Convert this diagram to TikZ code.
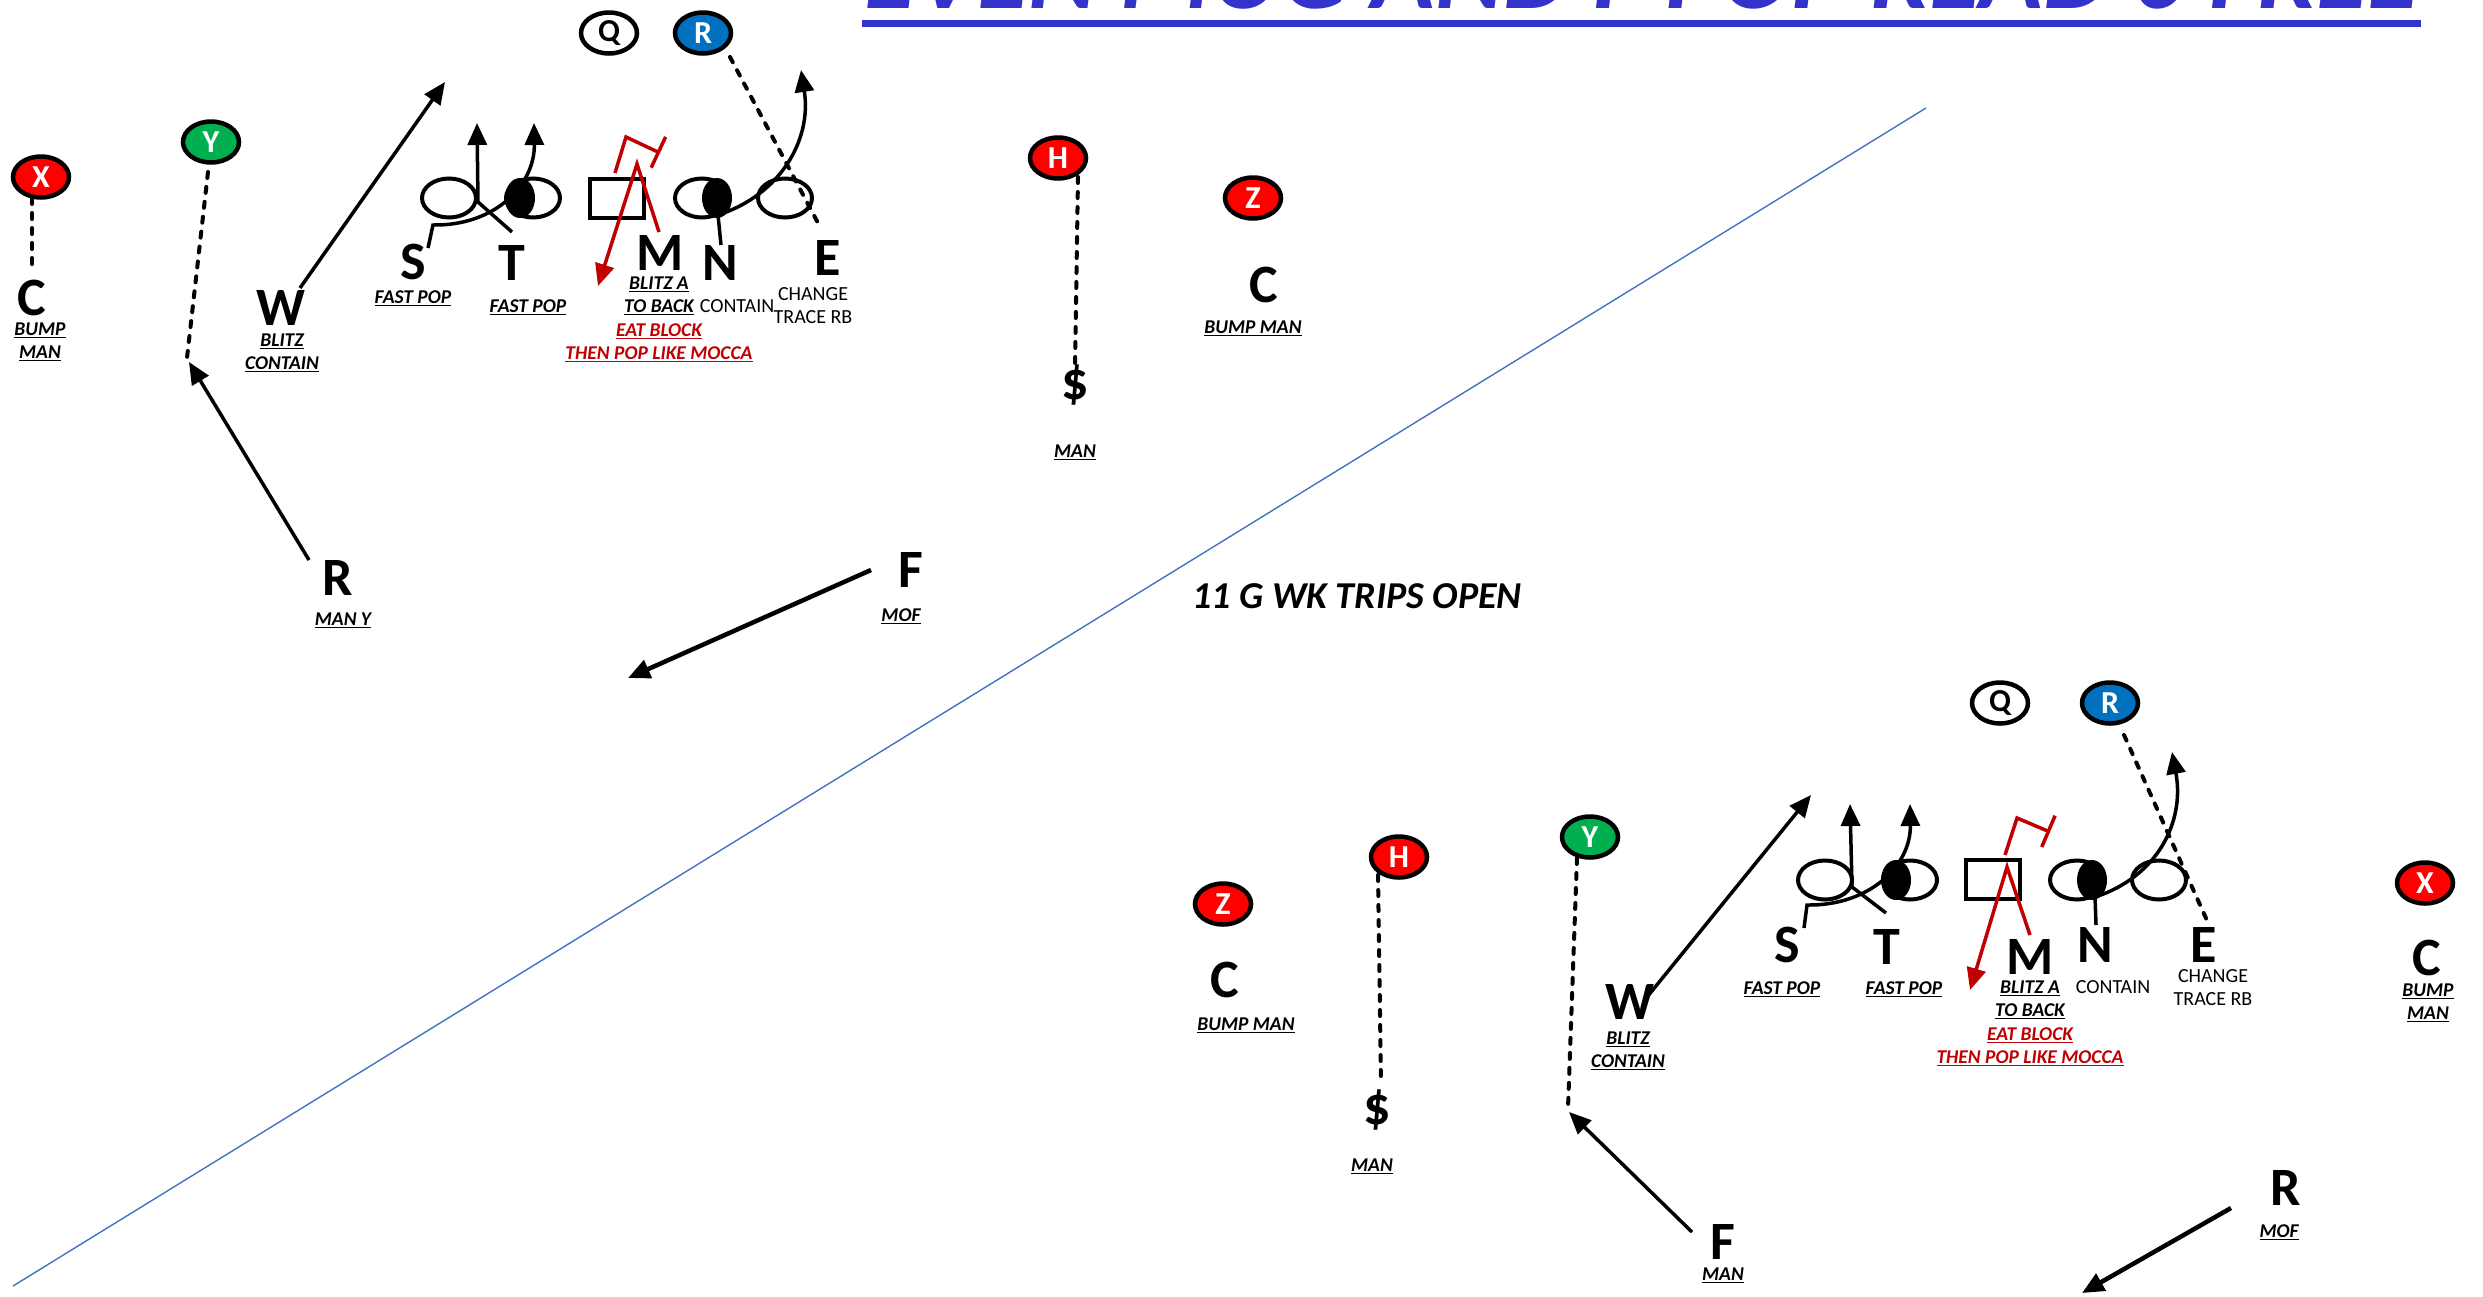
\documentclass[tikz,border=0pt]{standalone}
\usepackage{fontspec}
\usepackage{graphicx}
\setmainfont{Carlito}
\usetikzlibrary{arrows.meta,shapes.geometric}
\definecolor{titleblue}{HTML}{3333CC}
\definecolor{pblue}{HTML}{0070C0}
\definecolor{pgreen}{HTML}{00B050}
\definecolor{pred}{HTML}{FF0000}
\definecolor{dred}{HTML}{C00000}
\definecolor{lineblue}{HTML}{4472C4}
\tikzset{
  player/.style={ellipse, draw=black, line width=4.5pt, minimum width=56pt, minimum height=41pt, inner sep=0pt, font=\fontsize{32}{32}\selectfont\bfseries, text=white},
  oval/.style={ellipse, draw=black, line width=4pt, minimum width=54pt, minimum height=39pt, inner sep=0pt},
  half/.style={ellipse, fill=black, minimum width=30pt, minimum height=40pt, inner sep=0pt},
  boxpos/.style={rectangle, draw=black, line width=4pt, minimum width=54pt, minimum height=39pt, inner sep=0pt},
  big/.style={font=\fontsize{54}{54}\selectfont\bfseries, inner sep=0pt},
  lab/.style={font=\fontsize{19.5}{23}\selectfont\bfseries\itshape, inner sep=0pt, align=center},
  plainlab/.style={font=\fontsize{20}{23}\selectfont, inner sep=0pt, align=center},
  route/.style={line width=3.5pt, -{Triangle[length=22pt,width=19pt]}},
  redroute/.style={draw=dred, line width=3.5pt, -{Triangle[length=22pt,width=19pt]}},
  blockroute/.style={draw=dred, line width=3.5pt, -{Bar[width=34pt]}},
  plainline/.style={line width=3.5pt},
  dashline/.style={line width=4pt, dash pattern=on 6pt off 9pt, line cap=round},
}
\begin{document}
\begin{tikzpicture}[x=1pt,y=-1pt]
\useasboundingbox (0,0) rectangle (2483,1296);
\clip (0,0) rectangle (2483,1296);
\fill[white] (0,0) rectangle (2483,1296);

% title
\node[anchor=base west, inner sep=0pt, text=titleblue] (title) at (864,8)
  {\resizebox{1555pt}{!}{\fontsize{90}{90}\selectfont\bfseries\itshape EVEN MUG AND F POP READ 0 FREE}};
\fill[titleblue] (862,20) rectangle (2421,27);

% diagonal divider
\coordinate (dA) at (13,1286);
\coordinate (dB) at (1926,108);
\draw[lineblue, line width=1.4pt] (dA) -- (dB);

\node[font=\fontsize{38}{38}\selectfont\bfseries\itshape, inner sep=0pt] (formation) at (1357,596) {11 G WK TRIPS OPEN};

% ================= TOP DIAGRAM =================
\node[player, fill=white, text=black] (q1) at (609,33) {Q};
\node[player, fill=pblue] (r1) at (703,33) {R};
\node[player, fill=pred] (x1) at (41,177) {X};
\node[player, fill=pgreen] (y1) at (211,142) {Y};
\node[player, fill=pred] (h1) at (1058,158) {H};
\node[player, fill=pred] (z1) at (1253,198) {Z};

\node[half] (ft1) at (520,198) {};
\node[half] (fn1) at (717,198) {};
\node[oval] (os1) at (449,198) {};
\node[oval] (ot1) at (533,198) {};
\node[boxpos] (bx1) at (617,198) {};
\node[oval] (on1) at (702,198) {};
\node[oval] (oe1) at (785,198) {};

\node[big] (S1) at (413,262) {S};
\node[big] (T1) at (512,263) {T};
\node[big] (M1) at (660,253) {M};
\node[big] (N1) at (720,263) {N};
\node[big] (E1) at (828,258) {E};
\node[big] (CL1) at (32,298) {C};
\node[big] (W1) at (281,308) {W};
\node[big] (RL1) at (338,578) {R};
\node[big] (F1) at (911,570) {F};
\node[big] (CR1) at (1264,285) {C};
\node[big] (D1) at (1075,385) {\$};

\node[lab] (fp1) at (413,298) {\underline{FAST POP}};
\node[lab] (fp2) at (528,307) {\underline{FAST POP}};
\node[lab] (bl1) at (659,296) {\underline{BLITZ A}\\\underline{TO BACK}};
\node[lab, text=dred] (eb1) at (659,343) {\underline{EAT BLOCK}\\\underline{THEN POP LIKE MOCCA}};
\node[plainlab] (ct1) at (737,306) {CONTAIN};
\node[plainlab] (ch1) at (813,306) {CHANGE\\TRACE RB};
\node[lab] (bm1) at (40,342) {\underline{BUMP}\\\underline{MAN}};
\node[lab] (bc1) at (282,353) {\underline{BLITZ}\\\underline{CONTAIN}};
\node[lab] (my1) at (343,620) {\underline{MAN Y}};
\node[lab] (mo1) at (901,616) {\underline{MOF}};
\node[lab] (mn1) at (1075,452) {\underline{MAN}};
\node[lab] (bm2) at (1253,328) {\underline{BUMP MAN}};

% top routes
\coordinate (xa) at (32,198);   \coordinate (xb) at (32,267);
\draw[dashline] (xa) -- (xb);
\coordinate (ya) at (208,172);  \coordinate (yb) at (187,358);
\draw[dashline] (ya) -- (yb);
\coordinate (ra) at (309,560);  \coordinate (rb) at (189,362);
\draw[route] (ra) -- (rb);
\coordinate (wa) at (300,288);  \coordinate (wb) at (445,82);
\draw[route] (wa) -- (wb);
\coordinate (fa) at (871,570);  \coordinate (fb) at (628,678);
\draw[route, line width=4.5pt] (fa) -- (fb);
\coordinate (ha) at (1078,177); \coordinate (hb) at (1075,366);
\draw[dashline] (ha) -- (hb);
\coordinate (rda) at (730,57);  \coordinate (rdb) at (818,223);
\draw[dashline] (rda) -- (rdb);

\coordinate (sa) at (428,248);  \coordinate (sb) at (433,225); \coordinate (sc) at (534,123);
\draw[route] (sa) -- (sb) .. controls (495,226) and (535,185) .. (sc);
\coordinate (ta) at (512,232);  \coordinate (tb) at (478,202); \coordinate (tc) at (477,123);
\draw[route] (ta) -- (tb) -- (tc);
\coordinate (na) at (721,245);  \coordinate (nb) at (718,215); \coordinate (nc) at (801,70);
\draw[route] (na) -- (nb) .. controls (780,195) and (812,140) .. (nc);
\coordinate (ma) at (659,232);  \coordinate (mb) at (637,164); \coordinate (mc) at (598,286);
\draw[redroute] (ma) -- (mb) -- (mc);
\coordinate (ka) at (615,173);  \coordinate (kb) at (626,137); \coordinate (kc) at (660,153);
\draw[blockroute] (ka) -- (kb) -- (kc);

% ================= BOTTOM DIAGRAM =================
\node[player, fill=white, text=black] (q2) at (2000,703) {Q};
\node[player, fill=pblue] (r2) at (2110,703) {R};
\node[player, fill=pred] (x2) at (2425,883) {X};
\node[player, fill=pred] (z2) at (1223,904) {Z};
\node[player, fill=pred] (h2) at (1399,857) {H};
\node[player, fill=pgreen] (y2) at (1590,837) {Y};

\node[half] (ft2) at (1896,880) {};
\node[half] (fn2) at (2092,880) {};
\node[oval] (os2) at (1825,880) {};
\node[oval] (ot2) at (1910,880) {};
\node[boxpos] (bx2) at (1993,879) {};
\node[oval] (on2) at (2077,880) {};
\node[oval] (oe2) at (2159,880) {};

\node[big] (S2) at (1787,945) {S};
\node[big] (T2) at (1887,947) {T};
\node[big] (M2) at (2030,957) {M};
\node[big] (N2) at (2095,945) {N};
\node[big] (E2) at (2204,945) {E};
\node[big] (CX2) at (2427,958) {C};
\node[big] (CZ2) at (1225,980) {C};
\node[big] (D2) at (1377,1110) {\$};
\node[big] (W2) at (1630,1002) {W};
\node[big] (F2) at (1723,1242) {F};
\node[big] (RL2) at (2286,1188) {R};

\node[lab] (fp3) at (1782,989) {\underline{FAST POP}};
\node[lab] (fp4) at (1904,989) {\underline{FAST POP}};
\node[lab] (bl2) at (2030,1000) {\underline{BLITZ A}\\\underline{TO BACK}};
\node[lab, text=dred] (eb2) at (2030,1047) {\underline{EAT BLOCK}\\\underline{THEN POP LIKE MOCCA}};
\node[plainlab] (ct2) at (2113,987) {CONTAIN};
\node[plainlab] (ch2) at (2213,988) {CHANGE\\TRACE RB};
\node[lab] (bm3) at (2428,1003) {\underline{BUMP}\\\underline{MAN}};
\node[lab] (bm4) at (1246,1025) {\underline{BUMP MAN}};
\node[lab] (mn2) at (1372,1166) {\underline{MAN}};
\node[lab] (bc2) at (1628,1051) {\underline{BLITZ}\\\underline{CONTAIN}};
\node[lab] (mn3) at (1723,1275) {\underline{MAN}};
\node[lab] (mo2) at (2279,1232) {\underline{MOF}};

% bottom routes
\coordinate (h2a) at (1378,875);  \coordinate (h2b) at (1381,1083);
\draw[dashline] (h2a) -- (h2b);
\coordinate (y2a) at (1577,858);  \coordinate (y2b) at (1568,1108);
\draw[dashline] (y2a) -- (y2b);
\coordinate (f2a) at (1692,1232); \coordinate (f2b) at (1569,1112);
\draw[route] (f2a) -- (f2b);
\coordinate (w2a) at (1647,997);  \coordinate (w2b) at (1811,795);
\draw[route] (w2a) -- (w2b);
\coordinate (r2a) at (2231,1208); \coordinate (r2b) at (2082,1293);
\draw[route, line width=4.5pt] (r2a) -- (r2b);
\coordinate (rd2a) at (2124,735); \coordinate (rd2b) at (2209,925);
\draw[dashline] (rd2a) -- (rd2b);

\coordinate (s2a) at (1804,928);  \coordinate (s2b) at (1807,905); \coordinate (s2c) at (1910,804);
\draw[route] (s2a) -- (s2b) .. controls (1869,906) and (1911,866) .. (s2c);
\coordinate (t2a) at (1886,913);  \coordinate (t2b) at (1852,887); \coordinate (t2c) at (1850,804);
\draw[route] (t2a) -- (t2b) -- (t2c);
\coordinate (n2a) at (2096,925);  \coordinate (n2b) at (2095,897); \coordinate (n2c) at (2172,752);
\draw[route] (n2a) -- (n2b) .. controls (2157,877) and (2185,822) .. (n2c);
\coordinate (m2a) at (2030,935);  \coordinate (m2b) at (2007,867); \coordinate (m2c) at (1970,990);
\draw[redroute] (m2a) -- (m2b) -- (m2c);
\coordinate (k2a) at (2005,855);  \coordinate (k2b) at (2017,818); \coordinate (k2c) at (2050,832);
\draw[blockroute] (k2a) -- (k2b) -- (k2c);
\end{tikzpicture}
\end{document}
